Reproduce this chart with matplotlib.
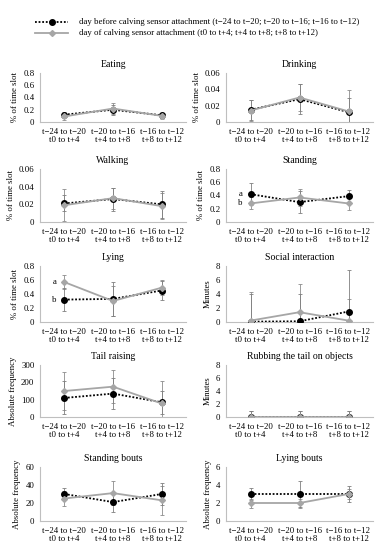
import matplotlib
matplotlib.use("Agg")
import matplotlib.pyplot as plt
from matplotlib.lines import Line2D
from matplotlib.ticker import FuncFormatter

plt.rcParams['font.family'] = ['Liberation Serif', 'DejaVu Serif']

categories = ["t\u221224 to t\u221220\nt0 to t+4",
              "t\u221220 to t\u221216\nt+4 to t+8",
              "t\u221216 to t\u221212\nt+8 to t+12"]

titles = ["Eating", "Drinking", "Walking", "Standing", "Lying",
          "Social interaction", "Tail raising", "Rubbing the tail on objects",
          "Standing bouts", "Lying bouts"]
ylabels = ["% of time slot", "% of time slot", "% of time slot", "% of time slot",
           "% of time slot", "Minutes", "Absolute frequency", "Minutes",
           "Absolute frequency", "Absolute frequency"]
ymax = [0.8, 0.06, 0.06, 0.8, 0.8, 8, 300, 8, 60, 6]
ystep = [0.2, 0.02, 0.02, 0.2, 0.2, 2, 100, 2, 20, 2]

before_vals = [[0.12, 0.20, 0.11], [0.015, 0.028, 0.012], [0.021, 0.026, 0.020],
               [0.42, 0.30, 0.39], [0.32, 0.33, 0.45], [0.05, 0.10, 1.5],
               [110, 135, 85], [0, 0, 0], [30, 21, 30], [3, 3, 3]]
before_err = [[0.04, 0.08, 0.04], [0.012, 0.018, 0.017], [0.009, 0.013, 0.015],
              [0.17, 0.17, 0.10], [0.16, 0.24, 0.14], [4.0, 3.9, 6.0],
              [95, 90, 65], [1.0, 1.0, 1.0], [7, 11, 12], [0.7, 1.4, 0.9]]
after_vals = [[0.09, 0.22, 0.10], [0.014, 0.030, 0.013], [0.019, 0.027, 0.018],
              [0.28, 0.37, 0.28], [0.57, 0.30, 0.49], [0.2, 1.4, 0.2],
              [150, 175, 78], [0, 0, 0], [25, 31, 23], [2, 2, 3]]
after_err = [[0.05, 0.09, 0.05], [0.013, 0.017, 0.026], [0.018, 0.012, 0.015],
             [0.09, 0.13, 0.10], [0.10, 0.22, 0.11], [4.1, 4.1, 3.1],
             [110, 95, 130], [1.0, 1.0, 1.0], [8, 13, 16], [0.5, 0.5, 0.6]]

legend_before = "day before calving sensor attachment (t\u221224 to t\u221220; t\u221220 to t\u221216; t\u221216 to t\u221212)"
legend_after = "day of calving sensor attachment (t0 to t+4; t+4 to t+8; t+8 to t+12)"

W, H = 384, 550
fig = plt.figure(figsize=(W / 100, H / 100), dpi=100)

col_x = [(40, 186), (226, 373)]
rows = [(73, 122), (169, 222), (266, 322), (365, 417), (467, 521)]

GRAY = "#a6a6a6"
AX = "#bfbfbf"


def fmt(v, pos):
    s = ("%.3f" % v).rstrip("0").rstrip(".")
    return s


x = [0, 1, 2]
for i in range(10):
    r, c = divmod(i, 2)
    x0, x1 = col_x[c]
    top, zero = rows[r]
    ax = fig.add_axes([x0 / W, 1 - zero / H, (x1 - x0) / W, (zero - top) / H])
    ax.errorbar(x, after_vals[i], yerr=after_err[i], fmt="none", ecolor="#8c8c8c",
                elinewidth=0.6, capsize=1.6, capthick=0.6, zorder=2)
    ax.errorbar(x, before_vals[i], yerr=before_err[i], fmt="none", ecolor="#7f7f7f",
                elinewidth=0.6, capsize=1.6, capthick=0.6, zorder=2)
    ax.plot(x, before_vals[i], color="black", linestyle=(0, (1, 1)), linewidth=1.3,
            marker="o", markersize=4, markerfacecolor="black", zorder=3)
    ax.plot(x, after_vals[i], color=GRAY, linewidth=1.3, marker="D", markersize=3,
            markerfacecolor=GRAY, markeredgecolor=GRAY, zorder=4)
    ax.set_xlim(-0.5, 2.5)
    ax.set_ylim(0, ymax[i])
    n = int(round(ymax[i] / ystep[i]))
    ax.set_yticks([k * ystep[i] for k in range(n + 1)])
    ax.yaxis.set_major_formatter(FuncFormatter(fmt))
    ax.set_xticks(x)
    ax.set_xticklabels(categories, fontsize=6.3, linespacing=1.15)
    ax.tick_params(axis="x", length=0, pad=4)
    ax.tick_params(axis="y", length=0, pad=4, labelsize=6.3)
    for s in ["top", "right"]:
        ax.spines[s].set_visible(False)
    for s in ["left", "bottom"]:
        ax.spines[s].set_color(AX)
        ax.spines[s].set_linewidth(0.8)
    ax.set_ylabel(ylabels[i], fontsize=6.3, labelpad=3)
    ax.set_title(titles[i], fontsize=7, pad=4)
    if i in (3, 4):
        ax.text(-0.16, before_vals[i][0] if i == 3 else after_vals[i][0], "a",
                fontsize=6.3, ha="right", va="center")
        ax.text(-0.16, after_vals[i][0] if i == 3 else before_vals[i][0], "b",
                fontsize=6.3, ha="right", va="center")

# legend
lx0, lx1, tx = 35 / W, 68 / W, 79 / W
for yy, style, txt in [(22, "before", legend_before), (33, "after", legend_after)]:
    fy = 1 - yy / H
    if style == "before":
        ln = Line2D([lx0, lx1], [fy, fy], transform=fig.transFigure, color="black",
                    linestyle=(0, (1, 1)), linewidth=1.3)
        mk = Line2D([(lx0 + lx1) / 2], [fy], transform=fig.transFigure, color="black",
                    marker="o", markersize=4, linestyle="none")
    else:
        ln = Line2D([lx0, lx1], [fy, fy], transform=fig.transFigure, color=GRAY,
                    linewidth=1.3)
        mk = Line2D([(lx0 + lx1) / 2], [fy], transform=fig.transFigure, color=GRAY,
                    marker="D", markersize=3, linestyle="none")
    fig.add_artist(ln)
    fig.add_artist(mk)
    fig.text(tx, fy, txt, fontsize=6.3, va="center", ha="left")

fig.savefig("out.png", dpi=100)
